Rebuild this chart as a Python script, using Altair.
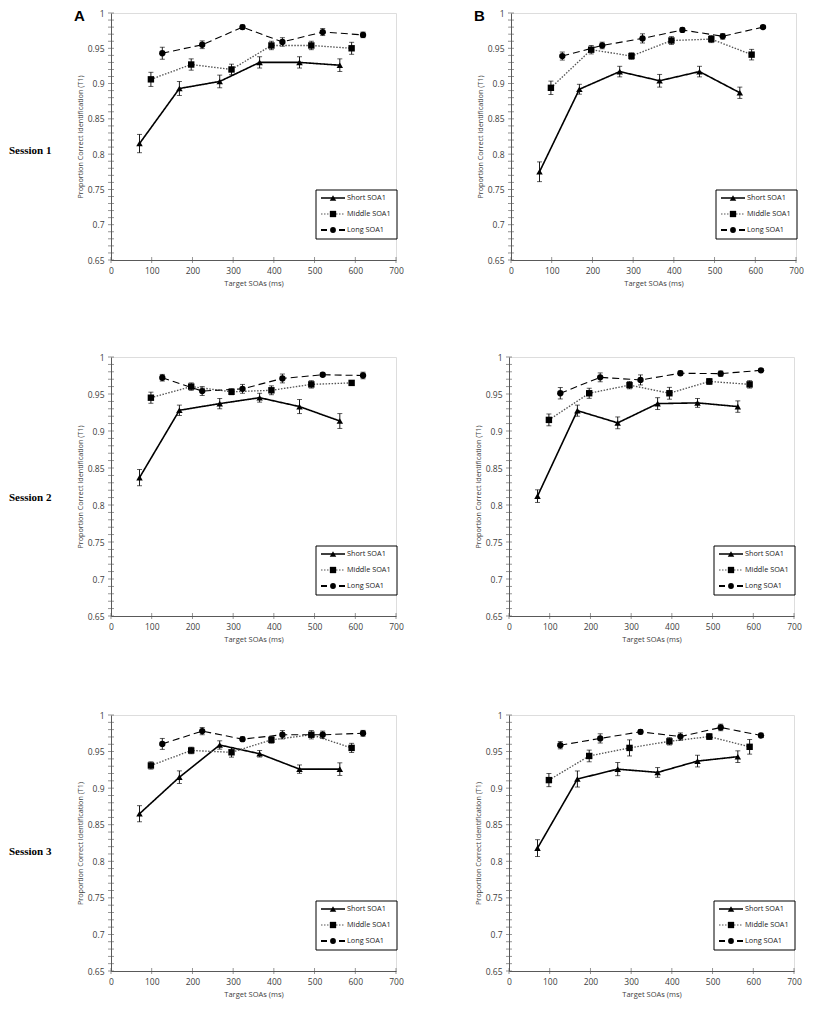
import altair as alt
import pandas as pd

SERIES = ["Short SOA1", "Middle SOA1", "Long SOA1"]
SESSIONS = ["Session 1", "Session 2", "Session 3"]
PANELS = ["A", "B"]

X_TICKS = [0, 100, 200, 300, 400, 500, 600, 700]
Y_LABELS = [0.65, 0.70, 0.75, 0.80, 0.85, 0.90, 0.95, 1.00]
Y_TICKS = [0.65, 0.66, 0.67, 0.68, 0.69, 0.70, 0.71, 0.72, 0.73, 0.74, 0.75,
           0.76, 0.77, 0.78, 0.79, 0.80, 0.81, 0.82, 0.83, 0.84, 0.85, 0.86,
           0.87, 0.88, 0.89, 0.90, 0.91, 0.92, 0.93, 0.94, 0.95, 0.96, 0.97,
           0.98, 0.99, 1.00]

SHORT_X = [70, 168, 267, 365, 463, 562]
MIDDLE_X = [98, 197, 296, 394, 492, 591]
LONG_X = [126, 224, 323, 421, 520, 619]

# Session 1
A1_SHORT = [0.815, 0.893, 0.903, 0.930, 0.930, 0.926]
A1_SHORT_ERR = [0.013, 0.010, 0.009, 0.008, 0.008, 0.009]
A1_MIDDLE = [0.906, 0.927, 0.920, 0.954, 0.954, 0.950]
A1_MIDDLE_ERR = [0.010, 0.008, 0.0075, 0.006, 0.006, 0.0085]
A1_LONG = [0.943, 0.955, 0.980, 0.959, 0.973, 0.969]
A1_LONG_ERR = [0.0085, 0.0055, 0.003, 0.006, 0.005, 0.004]

B1_SHORT = [0.775, 0.892, 0.917, 0.904, 0.917, 0.887]
B1_SHORT_ERR = [0.014, 0.007, 0.0075, 0.009, 0.0075, 0.008]
B1_MIDDLE = [0.894, 0.948, 0.939, 0.961, 0.963, 0.941]
B1_MIDDLE_ERR = [0.0095, 0.006, 0.0045, 0.0055, 0.005, 0.0075]
B1_LONG = [0.939, 0.954, 0.964, 0.976, 0.967, 0.980]
B1_LONG_ERR = [0.0057, 0.0047, 0.0065, 0.003, 0.004, 0.002]

# Session 2
A2_SHORT = [0.837, 0.928, 0.937, 0.945, 0.933, 0.9135]
A2_SHORT_ERR = [0.011, 0.007, 0.007, 0.006, 0.0095, 0.010]
A2_MIDDLE = [0.945, 0.960, 0.953, 0.955, 0.963, 0.965]
A2_MIDDLE_ERR = [0.0075, 0.005, 0.004, 0.006, 0.005, 0.003]
A2_LONG = [0.972, 0.954, 0.957, 0.971, 0.976, 0.975]
A2_LONG_ERR = [0.0045, 0.006, 0.006, 0.006, 0.002, 0.0045]

B2_SHORT = [0.812, 0.9275, 0.911, 0.937, 0.938, 0.933]
B2_SHORT_ERR = [0.0085, 0.0075, 0.008, 0.008, 0.006, 0.0077]
B2_MIDDLE = [0.915, 0.951, 0.962, 0.951, 0.967, 0.963]
B2_MIDDLE_ERR = [0.008, 0.0068, 0.005, 0.008, 0.004, 0.005]
B2_LONG = [0.951, 0.9725, 0.969, 0.978, 0.9775, 0.982]
B2_LONG_ERR = [0.0077, 0.006, 0.0068, 0.003, 0.0036, 0.002]

# Session 3
A3_SHORT = [0.865, 0.915, 0.959, 0.947, 0.926, 0.926]
A3_SHORT_ERR = [0.011, 0.0086, 0.0057, 0.0045, 0.0057, 0.0086]
A3_MIDDLE = [0.931, 0.9515, 0.949, 0.966, 0.973, 0.955]
A3_MIDDLE_ERR = [0.005, 0.0045, 0.0066, 0.0045, 0.0057, 0.0063]
A3_LONG = [0.9605, 0.978, 0.967, 0.973, 0.973, 0.975]
A3_LONG_ERR = [0.0075, 0.005, 0.003, 0.0057, 0.005, 0.004]

B3_SHORT = [0.818, 0.9125, 0.926, 0.9215, 0.937, 0.943]
B3_SHORT_ERR = [0.0115, 0.011, 0.009, 0.0066, 0.008, 0.008]
B3_MIDDLE = [0.911, 0.944, 0.955, 0.964, 0.9705, 0.9565]
B3_MIDDLE_ERR = [0.009, 0.008, 0.011, 0.005, 0.004, 0.010]
B3_LONG = [0.9587, 0.968, 0.977, 0.9705, 0.983, 0.972]
B3_LONG_ERR = [0.005, 0.0063, 0.003, 0.005, 0.0045, 0.003]

W = 285
ROW_H = [247, 259, 256]
SESSION_Y = [138, 141, 137]

FONT = "Open Sans"
AXIS_GRAY = "#595959"
TEXT_GRAY = "#404040"

DASHES = [[1, 0], [1.5, 1.5], [7, 4]]
LEGEND_DASHES = [[1, 0], [1.5, 1.5], [6, 12]]
WIDTHS = [1.6, 1.1, 1.8]
LINE_COLORS = ["black", "#555555", "black"]
SHAPES = ["triangle-up", "square", "circle"]
SIZES = [42, 40, 34]


def build_df(short, short_err, mid, mid_err, long_, long_err):
    rows = []
    for name, xs, ys, es in [(SERIES[0], SHORT_X, short, short_err),
                             (SERIES[1], MIDDLE_X, mid, mid_err),
                             (SERIES[2], LONG_X, long_, long_err)]:
        for x, y, e in zip(xs, ys, es):
            rows.append({"soa": x, "p": y, "series": name,
                         "lo": y - e, "hi": y + e})
    return pd.DataFrame(rows)


# tick-mark tables use the same field names as the data so axes merge cleanly
YT_DF = pd.DataFrame({"p": Y_TICKS})
XT_DF = pd.DataFrame({"soa": X_TICKS})


def panel(df, H, letter=None, session=None, session_y=0):
    x_axis = alt.Axis(values=X_TICKS, title="Target SOAs (ms)", grid=False,
                      labelFont=FONT, labelFontSize=8.5, labelColor=TEXT_GRAY,
                      titleFont=FONT, titleFontSize=7.5, titleFontWeight="normal",
                      titleColor=TEXT_GRAY, domainColor=AXIS_GRAY, ticks=False,
                      tickSize=0, labelPadding=6, titlePadding=5, labelFlush=False)
    y_axis = alt.Axis(values=Y_LABELS, format=".2~f",
                      title="Proportion Correct Identification (T1)",
                      grid=False, labelFont=FONT, labelFontSize=8.5,
                      labelColor=TEXT_GRAY, titleFont=FONT, titleFontSize=7.2,
                      titleFontWeight="normal", titleColor=TEXT_GRAY,
                      domainColor=AXIS_GRAY, ticks=False, tickSize=0,
                      labelPadding=7, titlePadding=3, labelOverlap=False)
    x_scale = alt.Scale(domain=[0, 700], nice=False)
    y_scale = alt.Scale(domain=[0.65, 1.0], nice=False, zero=False)
    xs = alt.X("soa:Q", scale=x_scale, axis=x_axis)
    ys = alt.Y("p:Q", scale=y_scale, axis=y_axis)

    base = alt.Chart(df)
    lines = base.mark_line().encode(
        x=xs, y=ys,
        detail="series:N",
        color=alt.Color("series:N", scale=alt.Scale(domain=SERIES, range=LINE_COLORS), legend=None),
        strokeDash=alt.StrokeDash("series:N", scale=alt.Scale(domain=SERIES, range=DASHES), legend=None),
        strokeWidth=alt.StrokeWidth("series:N", scale=alt.Scale(domain=SERIES, range=WIDTHS), legend=None),
    )
    bars = base.mark_rule(color="black", strokeWidth=0.9).encode(
        x=xs, y=alt.Y("lo:Q", scale=y_scale, axis=y_axis), y2="hi:Q")
    cap_lo = base.mark_tick(color="black", orient="horizontal", size=5, thickness=0.9).encode(
        x=xs, y=alt.Y("lo:Q", scale=y_scale, axis=y_axis))
    cap_hi = base.mark_tick(color="black", orient="horizontal", size=5, thickness=0.9).encode(
        x=xs, y=alt.Y("hi:Q", scale=y_scale, axis=y_axis))
    pts = base.mark_point(filled=True, opacity=1, color="black").encode(
        x=xs, y=ys,
        shape=alt.Shape("series:N", scale=alt.Scale(domain=SERIES, range=SHAPES), legend=None),
        size=alt.Size("series:N", scale=alt.Scale(domain=SERIES, range=SIZES), legend=None),
    )
    # axis tick marks crossing the axis lines
    yt = alt.Chart(YT_DF).mark_tick(color=AXIS_GRAY, orient="horizontal", size=6,
                                    thickness=0.9).encode(x=alt.value(0), y=ys)
    xt = alt.Chart(XT_DF).mark_tick(color=AXIS_GRAY, orient="vertical", size=6,
                                    thickness=0.9).encode(y=alt.value(H), x=xs)
    layers = [lines, bars, cap_lo, cap_hi, pts, yt, xt]

    # legend box
    one = alt.Data(values=[{"k": 1}])
    box_top = H - 70
    box = alt.Chart(one).mark_rect(fill="white", stroke="black", strokeWidth=1).encode(
        x=alt.value(W - 80), x2=alt.value(W + 1), y=alt.value(box_top), y2=alt.value(box_top + 49))
    layers.append(box)
    for i, name in enumerate(SERIES):
        ey = box_top + 8 + i * 16
        d = alt.Data(values=[{"label": name}])
        seg = alt.Chart(d).mark_rule(color=LINE_COLORS[i], strokeDash=LEGEND_DASHES[i],
                                     strokeWidth=WIDTHS[i]).encode(
            x=alt.value(W - 75), x2=alt.value(W - 51), y=alt.value(ey))
        mk = alt.Chart(d).mark_point(filled=True, opacity=1, color="black", shape=SHAPES[i],
                                     size=SIZES[i]).encode(
            x=alt.value(W - 63), y=alt.value(ey))
        tx = alt.Chart(d).mark_text(align="left", baseline="middle", font=FONT, fontSize=7.3,
                                    color="#222222").encode(
            x=alt.value(W - 49), y=alt.value(ey), text="label:N")
        layers += [seg, mk, tx]

    if letter is not None:
        lt = alt.Chart(alt.Data(values=[{"t": letter}])).mark_text(
            align="left", baseline="top", font="Liberation Sans", fontWeight="bold",
            fontSize=15, color="black").encode(x=alt.value(-37), y=alt.value(-4), text="t:N")
        layers.append(lt)
    if session is not None:
        st = alt.Chart(alt.Data(values=[{"t": session}])).mark_text(
            align="left", baseline="middle", font="Liberation Serif", fontWeight="bold",
            fontSize=11, color="black").encode(x=alt.value(-102), y=alt.value(session_y), text="t:N")
        layers.append(st)

    return alt.layer(*layers).properties(width=W, height=H)


data = [
    (build_df(A1_SHORT, A1_SHORT_ERR, A1_MIDDLE, A1_MIDDLE_ERR, A1_LONG, A1_LONG_ERR),
     build_df(B1_SHORT, B1_SHORT_ERR, B1_MIDDLE, B1_MIDDLE_ERR, B1_LONG, B1_LONG_ERR)),
    (build_df(A2_SHORT, A2_SHORT_ERR, A2_MIDDLE, A2_MIDDLE_ERR, A2_LONG, A2_LONG_ERR),
     build_df(B2_SHORT, B2_SHORT_ERR, B2_MIDDLE, B2_MIDDLE_ERR, B2_LONG, B2_LONG_ERR)),
    (build_df(A3_SHORT, A3_SHORT_ERR, A3_MIDDLE, A3_MIDDLE_ERR, A3_LONG, A3_LONG_ERR),
     build_df(B3_SHORT, B3_SHORT_ERR, B3_MIDDLE, B3_MIDDLE_ERR, B3_LONG, B3_LONG_ERR)),
]

rows = []
for r, (dfa, dfb) in enumerate(data):
    pa = panel(dfa, ROW_H[r], letter=PANELS[0] if r == 0 else None,
               session=SESSIONS[r], session_y=SESSION_Y[r])
    pb = panel(dfb, ROW_H[r], letter=PANELS[1] if r == 0 else None)
    rows.append(alt.hconcat(pa, pb, spacing=69))

chart = alt.vconcat(rows[0], alt.vconcat(rows[1], rows[2], spacing=66), spacing=64).properties(
    padding={"left": 0, "top": 0, "right": 0, "bottom": 0}
).configure_view(stroke=None).configure(background="white")

chart.save("out.html", embed_options={"renderer": "svg", "actions": False})
